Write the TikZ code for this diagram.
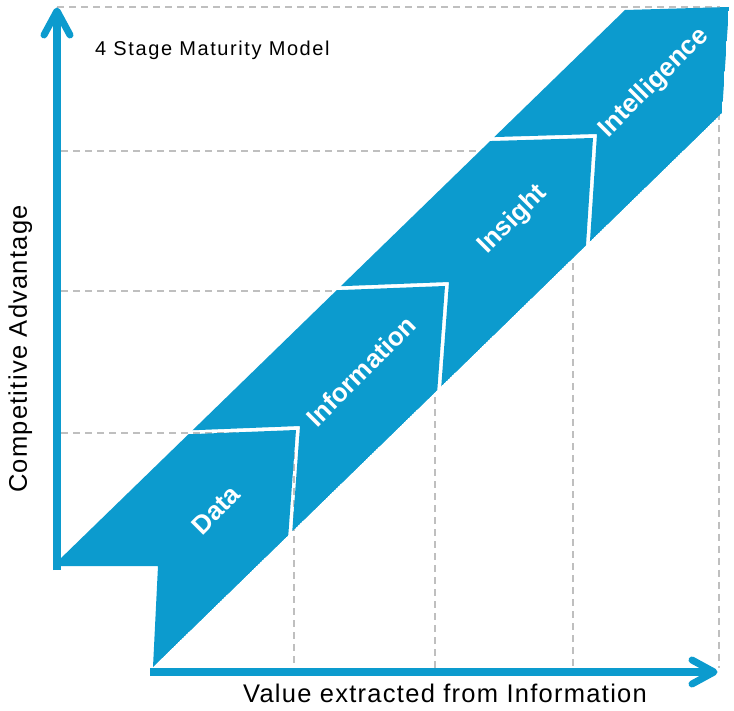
\documentclass[tikz,border=0pt]{standalone}
\usepackage{fontspec}
\setmainfont{Liberation Sans}
\newfontfamily\plainfont{Liberation Sans}[LetterSpace=5]
\newfontfamily\titlefont{Liberation Sans}[LetterSpace=8]
\definecolor{bandblue}{HTML}{0C9BCE}
\definecolor{gridgray}{HTML}{BFBFBF}

% outline of the whole staircase band
\def\bandoutline{(57,562) -- (57,566) -- (158,566) -- (153,667) -- (722,113) -- (729,7) -- (625,10) -- cycle}

\begin{document}
\begin{tikzpicture}[x=1pt, y=-1pt,
  gridline/.style={draw=gridgray, line width=2pt, dash pattern=on 7pt off 5pt},
  axisline/.style={draw=bandblue, line width=7.5pt},
  axistip/.style={draw=bandblue, line width=7pt, line cap=round, line join=round},
  stagelabel/.style={text=white, rotate=45, inner sep=0pt,
    font=\bfseries\fontsize{26}{30}\selectfont},
  caption/.style={inner sep=0pt, font=\plainfont\fontsize{25.5}{30}\selectfont}]
\useasboundingbox (0,0) rectangle (734,711);

% grid corners
\coordinate (g1) at (294,433);
\coordinate (g2) at (435,291);
\coordinate (g3) at (573,151);
\coordinate (g4) at (719,7.5);

% dashed grid, one L per stage
\draw[gridline] (57,7.5) -- (g4) -- (719,668);
\draw[gridline] (61,151) -- (g3) -- (573,668);
\draw[gridline] (61,291) -- (g2) -- (435,668);
\draw[gridline] (61,433) -- (g1) -- (294,668);

% the four stages, cut out of the band with small gaps between them
\begin{scope}
  \clip \bandoutline;
  % Data
  \begin{scope}
    \clip (94,438) -- (296,430) -- (280,648) -- (0,800) -- (0,438) -- cycle;
    \fill[bandblue] \bandoutline;
  \end{scope}
  % Information
  \begin{scope}
    \clip (98,434) -- (300,426) -- (284,644) -- (800,800) -- (800,0) -- (98,0) -- cycle;
    \clip (239,294) -- (445,286) -- (429,502) -- (0,800) -- (0,294) -- cycle;
    \fill[bandblue] \bandoutline;
  \end{scope}
  % Insight
  \begin{scope}
    \clip (243,290) -- (449,282) -- (433,498) -- (800,800) -- (800,0) -- (243,0) -- cycle;
    \clip (391,144) -- (593,138) -- (579,352) -- (0,800) -- (0,144) -- cycle;
    \fill[bandblue] \bandoutline;
  \end{scope}
  % Intelligence
  \begin{scope}
    \clip (395,140) -- (597,134) -- (583,348) -- (800,800) -- (800,0) -- (395,0) -- cycle;
    \fill[bandblue] \bandoutline;
  \end{scope}
\end{scope}

% axes
\coordinate (ybot) at (57,570);
\coordinate (ytip) at (57,11);
\coordinate (xleft) at (150,672);
\coordinate (xtip) at (714,672);
\draw[axisline] (ybot) -- (57,16);
\draw[axistip] (44,35) -- (ytip) -- (70,35);
\draw[axisline] (xleft) -- (709,672);
\draw[axistip] (692,660) -- (xtip) -- (692,684);

% texts
\node[inner sep=0pt, anchor=base west, font=\titlefont\fontsize{20}{24}\selectfont] (title) at (95,56) {4 Stage Maturity Model};
\node[caption, rotate=90, anchor=base] (ylabel) at (27,349) {Competitive Advantage};
\node[caption, anchor=base] (xlabel) at (445,702) {Value extracted from Information};

\node[stagelabel] (data) at (216,510) {Data};
\node[stagelabel] (information) at (361,371) {Information};
\node[stagelabel] (insight) at (513,220) {Insight};
\node[stagelabel] (intelligence) at (654,83) {Intelligence};
\end{tikzpicture}
\end{document}
